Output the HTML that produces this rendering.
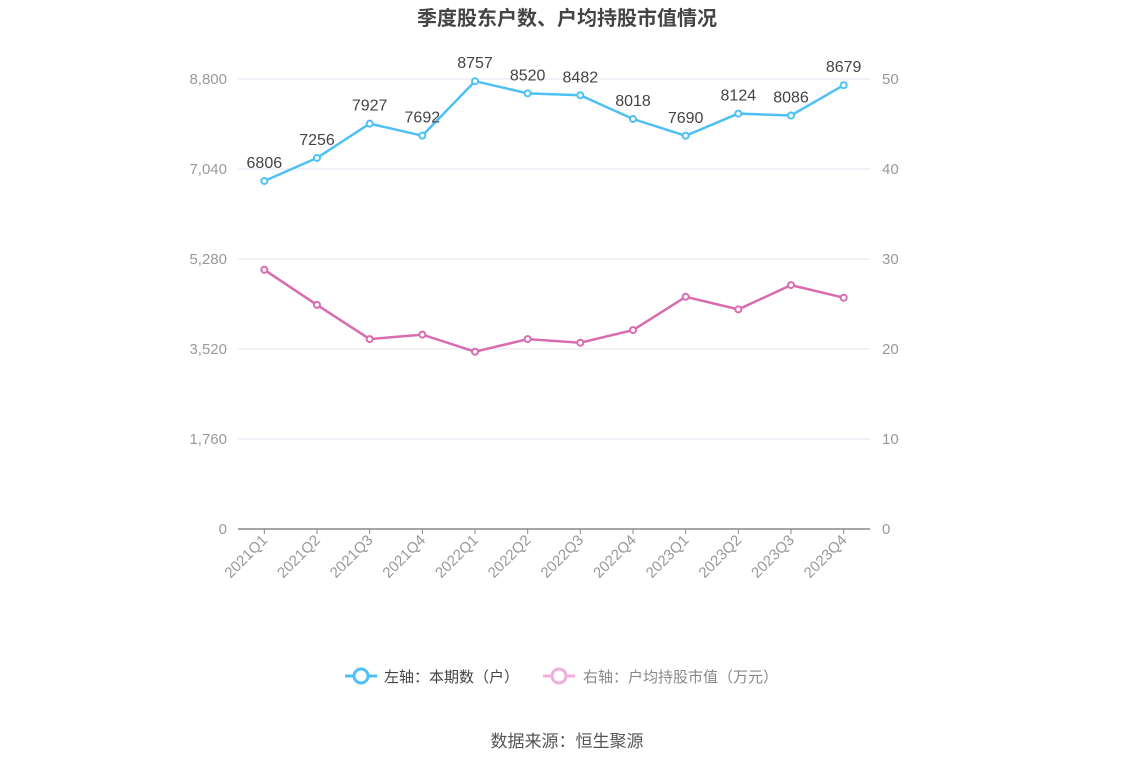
<!DOCTYPE html>
<html><head><meta charset="utf-8"><style>
body{margin:0;background:#fff;font-family:"Liberation Sans","Noto Sans CJK SC",sans-serif;}
svg text{font-family:"Liberation Sans","Noto Sans CJK SC",sans-serif;}
</style></head><body>
<svg id="c" width="1134" height="766">
<text x="567" y="25" text-anchor="middle" font-size="20" font-weight="bold" fill="#444">季度股东户数、户均持股市值情况</text>
<g id="grid"></g><g id="axes"></g><g id="series"></g>
<g>
<g>
<line x1="345" y1="676" x2="377" y2="676" stroke="#4fc0f5" stroke-width="3"/>
<circle cx="361" cy="676" r="7" fill="#fff" stroke="#4fc0f5" stroke-width="3"/>
<text x="384" y="682" font-size="15" fill="#444">左轴：本期数（户）</text></g>
<g>
<line x1="543" y1="676" x2="575" y2="676" stroke="#f0b0d5" stroke-width="3"/>
<circle cx="559" cy="676" r="7" fill="#fff" stroke="#f0b0d5" stroke-width="3"/>
<text x="583" y="682" font-size="15" fill="#888">右轴：户均持股市值（万元）</text></g>
</g>
<text x="567" y="747" text-anchor="middle" font-size="17" fill="#555">数据来源：恒生聚源</text>
</svg>
<script>
const categories=["2021Q1","2021Q2","2021Q3","2021Q4","2022Q1","2022Q2","2022Q3","2022Q4","2023Q1","2023Q2","2023Q3","2023Q4"];
const holders=[6806,7256,7927,7692,8757,8520,8482,8018,7690,8124,8086,8679];
const avgValue=[28.8,24.9,21.1,21.6,19.7,21.1,20.7,22.1,25.8,24.4,27.1,25.7];
const leftTicks=[0,1760,3520,5280,7040,8800];
const rightTicks=[0,10,20,30,40,50];
const NS="http://www.w3.org/2000/svg";
const X0=238,X1=870,Y0=529,Y1=79;
const bw=(X1-X0)/categories.length;
const x=i=>X0+bw*(i+0.5);
const yL=v=>Y0-(v/8800)*(Y0-Y1);
const yR=v=>Y0-(v/50)*(Y0-Y1);
function mk(tag,attrs,parent,txt){const e=document.createElementNS(NS,tag);for(const k in attrs)e.setAttribute(k,attrs[k]);if(txt!==undefined)e.textContent=txt;parent.appendChild(e);return e;}
const grid=document.getElementById('grid'),axes=document.getElementById('axes'),ser=document.getElementById('series');
leftTicks.forEach((t,i)=>{
 if(i>0){const g=mk('line',{x1:X0,x2:X1,y1:yL(t),y2:yL(t),stroke:'#e0e6f1','stroke-width':1},grid);
 
 }
 const l=mk('text',{x:227,y:yL(t)+5,'text-anchor':'end','font-size':15,fill:'#999'},axes,t.toLocaleString('en-US'));
 
 
});
rightTicks.forEach(t=>{
 const l=mk('text',{x:882,y:yR(t)+5,'font-size':15,fill:'#999'},axes,String(t));
 
 
});
const ax=mk('line',{x1:X0,x2:X1,y1:Y0,y2:Y0,stroke:'#888','stroke-width':1.5},axes);


categories.forEach((c,i)=>{
 mk('line',{x1:x(i),x2:x(i),y1:Y0,y2:Y0+5,stroke:'#888'},axes);
 const t=mk('text',{x:x(i)+4,y:Y0+12,'text-anchor':'end','font-size':15,fill:'#999',transform:`rotate(-45 ${x(i)+4} ${Y0+12})`},axes,c);
 
 
});
function line(vals,yf,color,name,labels){
 const p=mk('polyline',{points:vals.map((v,i)=>x(i)+','+yf(v)).join(' '),fill:'none',stroke:color,'stroke-width':2.5},ser);
 
 
 vals.forEach((v,i)=>{
  const c=mk('circle',{cx:x(i),cy:yf(v),r:3,fill:'#fff',stroke:color,'stroke-width':2},ser);
  
  
  if(labels){const t=mk('text',{x:x(i),y:yf(v)-13,'text-anchor':'middle','font-size':16,fill:'#444'},ser,String(v));
  
  }
 });
}
line(avgValue,yR,'#d96bb0','avg-value',false);
line(holders,yL,'#4fc0f5','holders',true);
</script>
</body></html>
